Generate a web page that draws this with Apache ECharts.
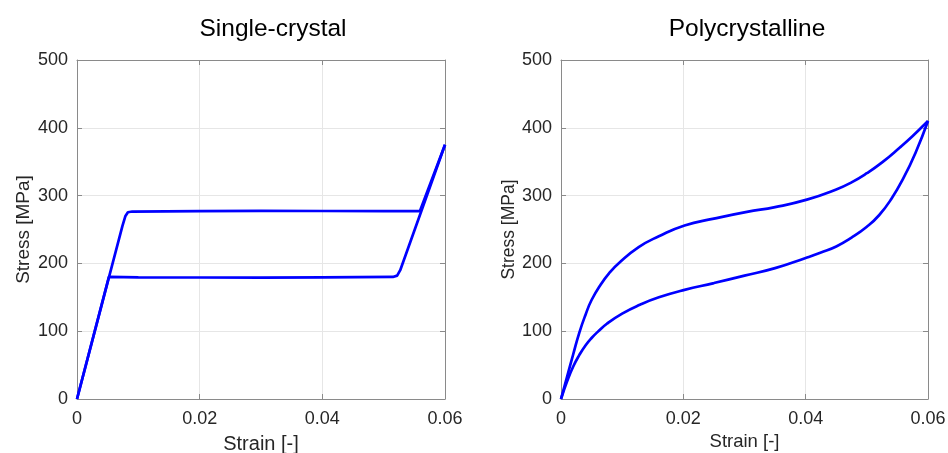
<!DOCTYPE html>
<html>
<head>
<meta charset="utf-8">
<script src="https://cdn.jsdelivr.net/npm/echarts@6/dist/echarts.min.js"></script>
<style>
html,body{margin:0;padding:0;background:#fff;}
#chart{width:948px;height:453px;}
</style>
</head>
<body>
<div id="chart"></div>
<script>
// ---- Data ----
const titles = ['Single-crystal', 'Polycrystalline'];
const xName = 'Strain [-]';
const yName = 'Stress [MPa]';
const xTicks = [0, 0.02, 0.04, 0.06];
const yTicks = [0, 100, 200, 300, 400, 500];

// Single-crystal: loading branch (strain, stress)
const scLoadStrain = [0, 0.0074, 0.0079, 0.0083, 0.0090, 0.020, 0.030, 0.040, 0.050, 0.0559, 0.060];
const scLoadStress = [0, 255, 270, 275.5, 276.5, 277, 277.5, 277.3, 277, 277, 375];
// Single-crystal: unloading branch
const scUnloadStrain = [0.060, 0.0527, 0.0522, 0.0515, 0.040, 0.030, 0.020, 0.010, 0.0052, 0];
const scUnloadStress = [375, 190, 182, 180, 179.5, 179, 179.2, 179.5, 180, 0];

// Polycrystalline: loading branch
const pcLoadStrain = [0, 0.001, 0.002, 0.003, 0.004, 0.005, 0.0065, 0.008, 0.0094, 0.0127, 0.016, 0.0202, 0.025, 0.0304, 0.035, 0.0402, 0.045, 0.0475, 0.050, 0.0525, 0.0554, 0.0575, 0.060];
const pcLoadStress = [0, 33, 66, 98, 124, 146, 169, 187, 200, 224, 240, 256, 266, 276, 283, 294, 309, 319.5, 333, 349, 371, 388, 410];
// Polycrystalline: unloading branch
const pcUnloadStrain = [0, 0.001, 0.002, 0.003, 0.004, 0.005, 0.006, 0.0075, 0.010, 0.0129, 0.016, 0.0202, 0.025, 0.030, 0.035, 0.040, 0.0425, 0.045, 0.0475, 0.050, 0.052, 0.054, 0.056, 0.058, 0.060];
const pcUnloadStress = [0, 26, 48, 65, 79, 90, 99, 111, 126, 139, 150, 161, 171, 182, 193, 208, 216, 225, 238, 254, 271, 295, 326, 364, 410];

function pairs(xs, ys) { return xs.map((x, i) => [x, ys[i]]); }

const FONT = '"Liberation Sans", Arial, Helvetica, sans-serif';
const TXT = '#262626';
const AXC = '#8a8a8a';
const GRIDC = '#e6e6e6';
const BLUE = '#0000ff';

const grids = [
  {left: 77, top: 60, width: 368, height: 339, outerBoundsMode: 'none', containLabel: false},
  {left: 561, top: 60, width: 367, height: 339, outerBoundsMode: 'none', containLabel: false}
];
const nameSizes = [{x: 20, y: 19}, {x: 18.5, y: 17.5}];

function fmtX(v) { return Math.abs(v) < 1e-9 ? '0' : (+v).toFixed(2); }

const xAxes = [], yAxes = [];
grids.forEach((g, gi) => {
  xAxes.push({
    type: 'value', gridIndex: gi, min: xTicks[0], max: xTicks[xTicks.length - 1], interval: xTicks[1] - xTicks[0],
    position: 'bottom',
    name: xName, nameLocation: 'middle', nameGap: gi === 0 ? 35 : 33,
    nameTextStyle: {fontFamily: FONT, fontSize: nameSizes[gi].x, color: TXT},
    axisLine: {show: true, onZero: false, lineStyle: {color: AXC, width: 1}},
    axisTick: {show: true, inside: true, length: 5, lineStyle: {color: AXC}},
    axisLabel: {fontFamily: FONT, fontSize: 18, color: TXT, margin: 11, formatter: fmtX},
    splitLine: {show: true, lineStyle: {color: GRIDC, width: 1}}
  });
  xAxes.push({
    type: 'value', gridIndex: gi, min: xTicks[0], max: xTicks[xTicks.length - 1], interval: xTicks[1] - xTicks[0],
    position: 'top',
    axisLine: {show: true, onZero: false, lineStyle: {color: AXC, width: 1}},
    axisTick: {show: true, inside: true, length: 5, lineStyle: {color: AXC}},
    axisLabel: {show: false}, splitLine: {show: false}
  });
  yAxes.push({
    type: 'value', gridIndex: gi, min: yTicks[0], max: yTicks[yTicks.length - 1], interval: yTicks[1] - yTicks[0],
    position: 'left',
    name: yName, nameLocation: 'middle', nameGap: gi === 0 ? 44 : 42,
    nameTextStyle: {fontFamily: FONT, fontSize: nameSizes[gi].y, color: TXT},
    axisLine: {show: true, onZero: false, lineStyle: {color: AXC, width: 1}},
    axisTick: {show: true, inside: true, length: 5, lineStyle: {color: AXC}},
    axisLabel: {fontFamily: FONT, fontSize: 18, color: TXT, margin: 9},
    splitLine: {show: true, lineStyle: {color: GRIDC, width: 1}}
  });
  yAxes.push({
    type: 'value', gridIndex: gi, min: yTicks[0], max: yTicks[yTicks.length - 1], interval: yTicks[1] - yTicks[0],
    position: 'right',
    axisLine: {show: true, onZero: false, lineStyle: {color: AXC, width: 1}},
    axisTick: {show: true, inside: true, length: 5, lineStyle: {color: AXC}},
    axisLabel: {show: false}, splitLine: {show: false}
  });
});

function lineSeries(data, axisIdx, smooth) {
  return {
    type: 'line', xAxisIndex: axisIdx, yAxisIndex: axisIdx, data: data,
    showSymbol: false, symbol: 'none', smooth: smooth,
    lineStyle: {color: BLUE, width: 2.7}, silent: true, animation: false, z: 5
  };
}

const chart = echarts.init(document.getElementById('chart'), null, {renderer: 'canvas'});
chart.setOption({
  backgroundColor: '#ffffff',
  animation: false,
  title: [
    {text: titles[0], left: 268, top: 12, textAlign: 'center', textStyle: {fontFamily: FONT, fontSize: 24.5, fontWeight: 'normal', color: '#000'}},
    {text: titles[1], left: 742, top: 12, textAlign: 'center', textStyle: {fontFamily: FONT, fontSize: 24.5, fontWeight: 'normal', color: '#000'}}
  ],
  grid: grids,
  xAxis: xAxes,
  yAxis: yAxes,
  series: [
    lineSeries(pairs(scLoadStrain, scLoadStress), 0, false),
    lineSeries(pairs(scUnloadStrain, scUnloadStress), 0, false),
    lineSeries(pairs(pcLoadStrain, pcLoadStress), 2, 0.5),
    lineSeries(pairs(pcUnloadStrain, pcUnloadStress), 2, 0.5)
  ]
});
</script>
</body>
</html>
